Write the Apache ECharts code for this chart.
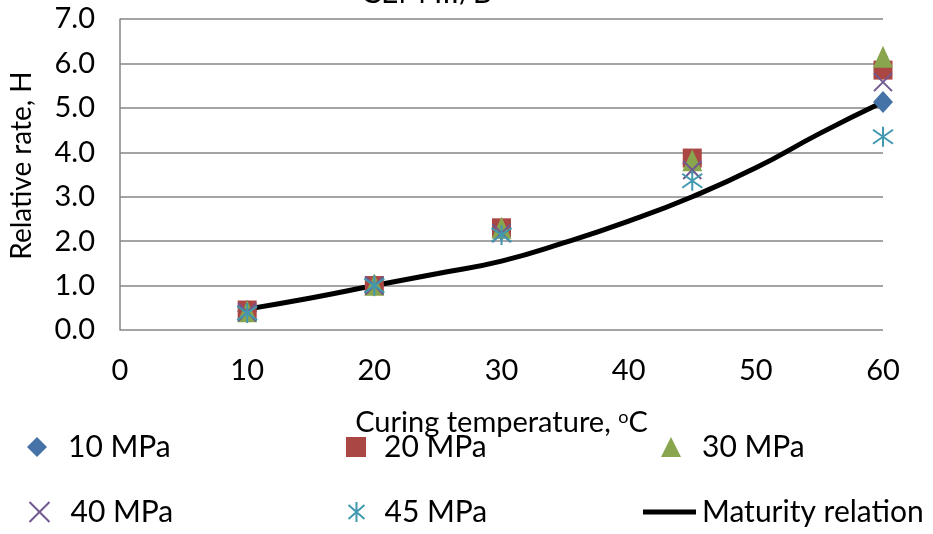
<!DOCTYPE html>
<html>
<head>
<meta charset="utf-8">
<script src="https://cdn.jsdelivr.net/npm/echarts@6/dist/echarts.min.js"></script>
<style>
  html, body { margin: 0; padding: 0; background: #fff; }
  #chart { width: 933px; height: 534px; }
</style>
</head>
<body>
<div id="chart"></div>
<script>
// curing temperatures (°C) of the test series
const temps = [10, 20, 30, 45, 60];
const mpa10 = [0.42, 1.00, 2.25, 3.75, 5.13];
const mpa20 = [0.45, 1.00, 2.30, 3.87, 5.85];
const mpa30 = [0.42, 1.02, 2.30, 3.82, 6.15];
const mpa40 = [0.40, 1.00, 2.18, 3.60, 5.58];
const mpa45 = [0.38, 1.00, 2.14, 3.36, 4.35];

// maturity relation curve
const curveT = [10, 15, 20, 25, 30, 35, 40, 45, 50, 55, 60];
const curveH = [0.47, 0.72, 1.00, 1.27, 1.55, 1.97, 2.45, 3.00, 3.65, 4.42, 5.13];

const yTicks = [0, 1, 2, 3, 4, 5, 6, 7];
const xTicks = [0, 10, 20, 30, 40, 50, 60];

const font = 'Lato, sans-serif';

const pair = (xs, ys) => xs.map((x, i) => [x, ys[i]]);

const crossPath = 'path://M0,0L20,20M20,0L0,20';
const starPath = 'path://M10,0L10,20M2,3L18,17M18,3L2,17';

const chart = echarts.init(document.getElementById('chart'));

function legendAt(name, left, top, pad, extra) {
  return Object.assign({
    data: [name],
    left: left,
    top: top,
    itemWidth: 20,
    itemHeight: 20,
    itemGap: 0,
    textStyle: { fontFamily: font, fontSize: 30, color: '#000', padding: [0, 0, 0, pad] }
  }, extra || {});
}

const option = {
  animation: false,
  textStyle: { fontFamily: font },
  title: {
    text: 'CEM III/B',
    left: 356,
    top: -27,
    textStyle: { fontFamily: font, fontSize: 30, fontWeight: 'normal', color: '#000' }
  },
  grid: { left: 117, right: 50, top: 19, bottom: 204 },
  legend: [
    legendAt('10 MPa', 22, 427, 16),
    legendAt('20 MPa', 341, 427, 13),
    legendAt('30 MPa', 656, 427, 16),
    legendAt('40 MPa', 22, 492, 16),
    legendAt('45 MPa', 341, 492, 13),
    legendAt('Maturity relation', 638, 492, 1, {
      itemWidth: 53, itemHeight: 5, icon: 'rect', itemStyle: { color: '#000' }
    })
  ],
  xAxis: {
    type: 'value',
    min: xTicks[0],
    max: xTicks[xTicks.length - 1],
    interval: 10,
    name: 'Curing temperature, {sup|o}C',
    nameLocation: 'middle',
    nameGap: 78,
    nameTextStyle: {
      fontFamily: font, fontSize: 29, color: '#000',
      rich: { sup: { fontFamily: font, fontSize: 18, color: '#000', verticalAlign: 'top', padding: [0, 0, 12, 0] } }
    },
    axisLine: { show: false },
    axisTick: { show: false },
    splitLine: { show: false },
    axisLabel: { fontFamily: font, fontSize: 29, color: '#000', margin: 26 }
  },
  yAxis: {
    type: 'value',
    min: yTicks[0],
    max: yTicks[yTicks.length - 1],
    interval: 1,
    name: 'Relative rate, H',
    nameLocation: 'middle',
    nameGap: 84,
    nameRotate: 90,
    nameTextStyle: { fontFamily: font, fontSize: 28, color: '#000', padding: [0, 0, 0, 18] },
    axisLine: { show: true, lineStyle: { color: '#868686', width: 1.5 } },
    axisTick: { show: false },
    splitLine: { show: true, lineStyle: { color: '#868686', width: 1.5 } },
    axisLabel: {
      fontFamily: font, fontSize: 29, color: '#000', margin: 25,
      formatter: v => v.toFixed(1)
    }
  },
  series: [
    {
      name: 'Maturity relation',
      type: 'line',
      smooth: true,
      symbol: 'none',
      z: 1,
      lineStyle: { color: '#000', width: 5 },
      itemStyle: { color: '#000' },
      data: pair(curveT, curveH)
    },
    {
      name: '10 MPa',
      type: 'scatter',
      symbol: 'diamond',
      symbolSize: [20, 22],
      z: 2,
      itemStyle: { color: '#4572A7', opacity: 1 },
      data: pair(temps, mpa10)
    },
    {
      name: '20 MPa',
      type: 'scatter',
      symbol: 'rect',
      symbolSize: 19,
      z: 3,
      itemStyle: { color: '#AA4643', opacity: 1 },
      data: pair(temps, mpa20)
    },
    {
      name: '30 MPa',
      type: 'scatter',
      symbol: 'triangle',
      symbolSize: [20, 22],
      z: 4,
      itemStyle: { color: '#89A54E', opacity: 1 },
      data: pair(temps, mpa30)
    },
    {
      name: '40 MPa',
      type: 'scatter',
      symbol: crossPath,
      symbolSize: 18,
      z: 5,
      itemStyle: { color: 'none', borderColor: '#71588F', borderWidth: 2, opacity: 1 },
      data: pair(temps, mpa40)
    },
    {
      name: '45 MPa',
      type: 'scatter',
      symbol: starPath,
      symbolSize: 20,
      z: 6,
      itemStyle: { color: 'none', borderColor: '#4198AF', borderWidth: 2, opacity: 1 },
      data: pair(temps, mpa45)
    }
  ]
};

chart.setOption(option);
</script>
</body>
</html>
